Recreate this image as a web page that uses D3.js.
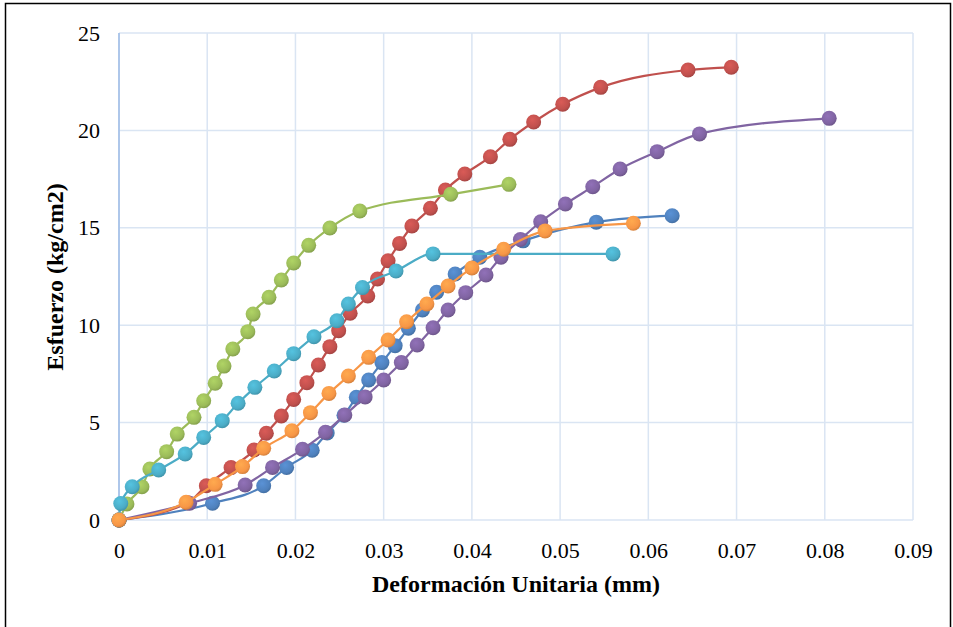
<!DOCTYPE html>
<html>
<head>
<meta charset="utf-8">
<script src="https://cdn.jsdelivr.net/npm/d3@7"></script>
<style>
  body { margin: 0; background: #fff; }
  svg { display: block; }
  text { font-family: "Liberation Serif", "Times New Roman", serif; fill: #000; }
</style>
</head>
<body>
<div id="chart"></div>
<script>
// values
const xTicks = [0, 0.01, 0.02, 0.03, 0.04, 0.05, 0.06, 0.07, 0.08, 0.09];
const yTicks = [0, 5, 10, 15, 20, 25];

const blueX = [0, 0.0106, 0.0164, 0.0190, 0.0219, 0.0236, 0.0255, 0.0269, 0.0283, 0.0298, 0.0313, 0.0328, 0.0344, 0.0360, 0.0381, 0.0409, 0.0458, 0.0541, 0.0627];
const blueY = [0, 0.86, 1.76, 2.70, 3.58, 4.47, 5.38, 6.30, 7.19, 8.08, 8.95, 9.84, 10.78, 11.69, 12.63, 13.49, 14.33, 15.29, 15.62];

const redX = [0, 0.0078, 0.0099, 0.0127, 0.0153, 0.0167, 0.0184, 0.0198, 0.0213, 0.0226, 0.0239, 0.0249, 0.0262, 0.0282, 0.0293, 0.0305, 0.0318, 0.0332, 0.0353, 0.0370, 0.0392, 0.0421, 0.0443, 0.0470, 0.0503, 0.0546, 0.0645, 0.0694];
const redY = [0, 0.88, 1.76, 2.69, 3.59, 4.45, 5.34, 6.19, 7.05, 7.96, 8.90, 9.72, 10.61, 11.50, 12.37, 13.31, 14.20, 15.09, 16.00, 16.94, 17.76, 18.65, 19.54, 20.43, 21.34, 22.21, 23.10, 23.24];

const greenX = [0, 0.0009, 0.0026, 0.0035, 0.0054, 0.0066, 0.0085, 0.0096, 0.0109, 0.0119, 0.0129, 0.0146, 0.0152, 0.0170, 0.0184, 0.0198, 0.0215, 0.0239, 0.0273, 0.0376, 0.0442];
const greenY = [0, 0.82, 1.71, 2.62, 3.51, 4.41, 5.27, 6.12, 7.02, 7.90, 8.78, 9.67, 10.57, 11.43, 12.32, 13.19, 14.10, 14.99, 15.86, 16.72, 17.23];

const purpleX = [0, 0.0080, 0.0143, 0.0174, 0.0208, 0.0234, 0.0256, 0.0279, 0.0300, 0.0320, 0.0338, 0.0356, 0.0373, 0.0393, 0.0416, 0.0433, 0.0455, 0.0478, 0.0506, 0.0537, 0.0568, 0.0610, 0.0658, 0.0805];
const purpleY = [0, 0.86, 1.80, 2.70, 3.63, 4.50, 5.39, 6.32, 7.19, 8.08, 8.98, 9.87, 10.78, 11.67, 12.58, 13.49, 14.40, 15.31, 16.22, 17.11, 18.02, 18.91, 19.82, 20.62];

const cyanX = [0, 0.0002, 0.0015, 0.0045, 0.0075, 0.0096, 0.0117, 0.0135, 0.0154, 0.0176, 0.0198, 0.0221, 0.0247, 0.0260, 0.0276, 0.0314, 0.0356, 0.0560];
const cyanY = [0, 0.85, 1.71, 2.57, 3.39, 4.24, 5.10, 5.99, 6.81, 7.65, 8.54, 9.41, 10.23, 11.09, 11.93, 12.78, 13.66, 13.66];

const orangeX = [0, 0.0076, 0.0109, 0.0140, 0.0164, 0.0196, 0.0217, 0.0238, 0.0260, 0.0283, 0.0305, 0.0326, 0.0349, 0.0373, 0.0400, 0.0436, 0.0483, 0.0583];
const orangeY = [0, 0.91, 1.83, 2.74, 3.68, 4.58, 5.51, 6.50, 7.39, 8.35, 9.24, 10.18, 11.09, 12.01, 12.94, 13.90, 14.84, 15.23];

const series = [
  { color: "#4F81BD", xs: blueX, ys: blueY },
  { color: "#C0504D", xs: redX, ys: redY },
  { color: "#9BBB59", xs: greenX, ys: greenY },
  { color: "#8064A2", xs: purpleX, ys: purpleY },
  { color: "#4BACC6", xs: cyanX, ys: cyanY },
  { color: "#F79646", xs: orangeX, ys: orangeY }
];

const width = 953, height = 627;
const margin = { top: 33, right: 40, bottom: 107, left: 119 };

const svg = d3.select("#chart")
  .append("svg")
  .attr("width", width)
  .attr("height", height);

// outer frame
svg.append("rect")
  .attr("x", 5.5).attr("y", 3.5)
  .attr("width", 945).attr("height", 640)
  .attr("fill", "none")
  .attr("stroke", "#000")
  .attr("stroke-width", 1.5);

const xScale = d3.scaleLinear()
  .domain([0, 0.09])
  .range([margin.left, width - margin.right]);

const yScale = d3.scaleLinear()
  .domain([0, 25])
  .range([height - margin.bottom, margin.top]);

// gridlines
svg.append("g")
  .selectAll("line")
  .data(xTicks)
  .join("line")
  .attr("x1", d => xScale(d)).attr("x2", d => xScale(d))
  .attr("y1", yScale(0)).attr("y2", yScale(25))
  .attr("stroke", "#DAE5F3")
  .attr("stroke-width", 1.5);

svg.append("g")
  .selectAll("line")
  .data(yTicks)
  .join("line")
  .attr("x1", xScale(0)).attr("x2", xScale(0.09))
  .attr("y1", d => yScale(d)).attr("y2", d => yScale(d))
  .attr("stroke", "#DAE5F3")
  .attr("stroke-width", 1.5);

// left axis line
svg.append("line")
  .attr("x1", xScale(0)).attr("x2", xScale(0))
  .attr("y1", yScale(0)).attr("y2", yScale(25))
  .attr("stroke", "#9DBBE6")
  .attr("stroke-width", 1.5);

// tick labels
const xAxis = d3.axisBottom(xScale).tickValues(xTicks).tickSize(0).tickPadding(22)
  .tickFormat(d => d === 0 ? "0" : d3.format(".2f")(d));
const gx = svg.append("g")
  .attr("transform", `translate(0,${yScale(0)})`)
  .call(xAxis);
gx.select(".domain").remove();
gx.selectAll("text").style("font-size", "22px").attr("fill", "#000");

const yAxis = d3.axisLeft(yScale).tickValues(yTicks).tickSize(0).tickPadding(19);
const gy = svg.append("g")
  .attr("transform", `translate(${xScale(0)},0)`)
  .call(yAxis);
gy.select(".domain").remove();
gy.selectAll("text").style("font-size", "22px").attr("fill", "#000");

// axis titles
svg.append("text")
  .attr("x", 516).attr("y", 592)
  .attr("text-anchor", "middle")
  .style("font-size", "24px")
  .style("font-weight", "bold")
  .text("Deformación Unitaria (mm)");

svg.append("text")
  .attr("transform", "translate(63,277) rotate(-90)")
  .attr("text-anchor", "middle")
  .style("font-size", "24px")
  .style("font-weight", "bold")
  .text("Esfuerzo (kg/cm2)");

// gradients for markers
const defs = svg.append("defs");
series.forEach((s, i) => {
  const g = defs.append("radialGradient")
    .attr("id", "grad" + i)
    .attr("cx", "40%").attr("cy", "35%").attr("r", "65%");
  g.append("stop").attr("offset", "0%").attr("stop-color", d3.color(s.color).brighter(0.35));
  g.append("stop").attr("offset", "75%").attr("stop-color", s.color);
  g.append("stop").attr("offset", "100%").attr("stop-color", d3.color(s.color).darker(0.4));
});

const line = d3.line()
  .x(d => xScale(d[0]))
  .y(d => yScale(d[1]))
  .curve(d3.curveMonotoneX);

series.forEach((s, i) => {
  const pts = s.xs.map((x, j) => [x, s.ys[j]]);
  const g = svg.append("g");
  g.append("path")
    .datum(pts)
    .attr("d", line)
    .attr("fill", "none")
    .attr("stroke", s.color)
    .attr("stroke-width", 2.2);
  g.selectAll("circle")
    .data(pts)
    .join("circle")
    .attr("cx", d => xScale(d[0]))
    .attr("cy", d => yScale(d[1]))
    .attr("r", 7.5)
    .attr("fill", `url(#grad${i})`);
});
</script>
</body>
</html>
